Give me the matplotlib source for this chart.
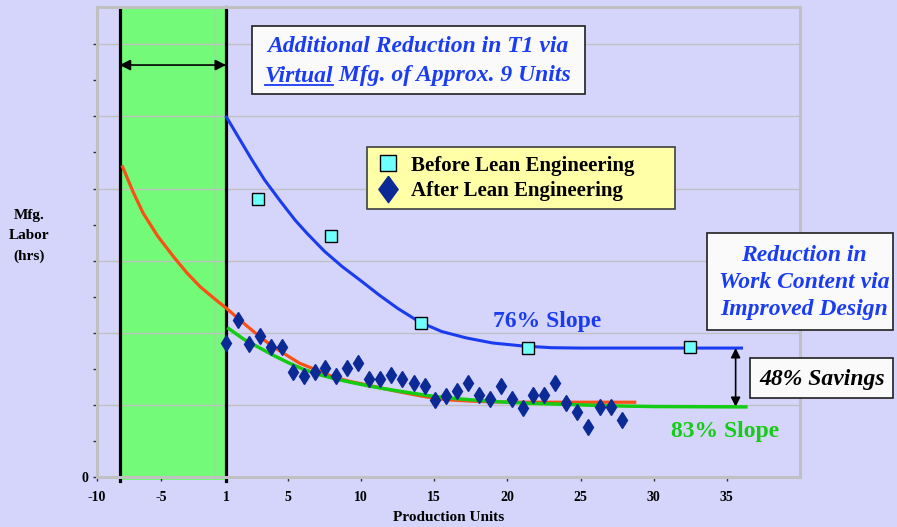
import matplotlib.pyplot as plt
import matplotlib.transforms as mtransforms
from matplotlib.lines import Line2D
from matplotlib.patches import Rectangle

# Observed labor hours per production unit
before_x = [2.95, 7.95, 14.07, 21.4, 32.5]
before_y = [38.6, 33.4, 21.4, 17.9, 18.1]

after_x = [0.77, 1.56, 2.32, 3.09, 3.84, 4.59, 5.37, 6.12, 6.87, 7.53,
           8.26, 9.04, 9.79, 10.56, 11.31, 12.06, 12.82, 13.59, 14.37, 15.03,
           15.78, 16.53, 17.29, 18.06, 18.81, 19.58, 20.33, 21.09, 21.73, 22.5,
           23.27, 24.03, 24.78, 25.53, 26.31, 27.06, 27.81]
after_y = [18.6, 21.8, 18.5, 19.6, 18.0, 18.0, 14.6, 14.0, 14.6, 15.2,
           14.0, 15.2, 15.8, 13.6, 13.6, 14.2, 13.6, 13.0, 12.6, 10.7,
           11.3, 12.0, 13.0, 11.4, 10.8, 12.6, 10.9, 9.6, 11.4, 11.4,
           13.0, 10.3, 9.1, 6.9, 9.7, 9.7, 8.0]

# Learning curves
slope76_x = [0.8, 1.5, 2.5, 3.4, 4.5, 5.5, 6.3, 7.5, 8.7, 10.0, 11.2, 12.5,
             14.0, 15.5, 17.2, 19.0, 21.0, 23.0, 25.0, 36.0]
slope76_y = [49.9, 47.5, 44.1, 41.2, 38.2, 35.6, 33.8, 31.3, 29.2, 27.2, 25.3,
             23.4, 21.5, 20.2, 19.3, 18.6, 18.2, 17.95, 17.9, 17.9]

virtual_x = [-6.3, -5.6, -4.9, -3.9, -2.8, -1.9, -1.0, 0.0, 0.8, 2.0, 3.0,
             3.84, 5.0, 5.8, 6.9, 8.1, 9.2, 10.4, 11.5, 12.7, 14.0, 15.0,
             16.2, 17.5, 19.0, 21.0, 28.7]
virtual_y = [43.0, 39.6, 36.6, 33.4, 30.5, 28.3, 26.4, 24.7, 23.4, 21.3, 19.6,
             18.3, 16.8, 15.8, 14.9, 13.9, 13.3, 12.8, 12.3, 11.8, 11.3, 10.95,
             10.7, 10.55, 10.45, 10.4, 10.4]

slope83_x = [0.95, 2.0, 3.0, 4.0, 5.0, 6.0, 7.0, 8.1, 9.2, 10.4, 11.5, 12.7,
             14.0, 15.0, 16.5, 18.0, 19.5, 21.5, 24.0, 27.0, 30.0, 36.3]
slope83_y = [20.6, 19.1, 18.0, 16.9, 15.9, 15.0, 14.3, 13.7, 13.2, 12.7, 12.3,
             11.9, 11.5, 11.2, 10.9, 10.65, 10.45, 10.25, 10.1, 9.9, 9.8, 9.75]

tick_labels = ['-10', '-5', '1', '5', '10', '15', '20', '25', '30', '35']
tick_pos = [-8.05, -3.68, 0.77, 5, 10, 15, 20, 25, 30, 35]

BG = '#d5d5fc'
GREEN_FILL = '#72fa78'
BLUE = '#1a3cf0'
ORANGE = '#fa5014'
GREEN = '#14cc14'
NAVY = '#0c2a96'
CYAN = '#70ffff'
TEXT_BLUE = '#1a3cf5'
SERIF = 'Liberation Serif'

W, H = 897, 527
fig = plt.figure(figsize=(W / 100, H / 100), dpi=100)
fig.patch.set_facecolor(BG)
ax = fig.add_axes([97 / W, (H - 477.3) / H, 703 / W, 470.3 / H])
ax.set_facecolor(BG)
ax.set_xlim(-8.05, 40.0)
ax.set_ylim(0, 65.14)
ax.set_axisbelow(True)

for s in ax.spines.values():
    s.set_color('#c0c0c0')
    s.set_linewidth(2.2)

# ticks and grid
ax.set_xticks(tick_pos)
ax.set_xticklabels(tick_labels)
ax.set_xticks([0, 10, 20, 30], minor=True)
ax.set_yticks(range(0, 61, 10))
ax.set_yticklabels(['0'] + [''] * 6)
ax.set_yticks(range(5, 56, 10), minor=True)
ax.tick_params(axis='both', which='both', direction='out', length=3,
               width=1, color='#303030')
ax.tick_params(axis='x', which='minor', length=0)
ax.tick_params(axis='x', pad=7)
ax.tick_params(axis='y', pad=3)
for lab in ax.get_xticklabels() + ax.get_yticklabels():
    lab.set_fontfamily(SERIF)
    lab.set_fontweight('bold')
    lab.set_fontsize(10)
ax.grid(axis='y', which='major', color='#c0c0c0', lw=1)
ax.grid(axis='x', which='minor', color='#c0c0c0', lw=1)

ax.set_xlabel('Production Units', family=SERIF, weight='bold', fontsize=11,
              labelpad=5)
ax.set_ylabel('Mfg.\nLabor\n(hrs)', family=SERIF, weight='bold', fontsize=11,
              rotation=0, ha='center', va='center', linespacing=1.7)
ax.yaxis.set_label_coords(-0.097, 0.513)

# virtual manufacturing zone
ax.axvspan(-6.5, 0.77, ymin=-0.006, ymax=0.996, color=GREEN_FILL, lw=0,
           zorder=0.4, clip_on=False)
ax.plot([-6.5, -6.5], [-0.5, 64.9], color='black', lw=2.3, zorder=2,
        clip_on=False)
ax.plot([0.77, 0.77], [-0.5, 65.1], color='black', lw=2.3, zorder=2,
        clip_on=False)
ax.annotate('', xy=(-6.5, 57.1), xytext=(0.77, 57.1),
            arrowprops=dict(arrowstyle='<|-|>', color='black', lw=1.2,
                            mutation_scale=16, shrinkA=0, shrinkB=0))

# curves and points
ax.plot(slope76_x, slope76_y, color=BLUE, lw=2.2, zorder=3)
ax.plot(virtual_x, virtual_y, color=ORANGE, lw=2.3, zorder=3)
ax.plot(slope83_x, slope83_y, color=GREEN, lw=2.5, zorder=3.1)
ax.plot(after_x, after_y, ls='none', marker='d', ms=8, color=NAVY,
        zorder=4)
ax.plot(before_x, before_y, ls='none', marker='s', ms=9.3, mfc=CYAN,
        mec='black', mew=1.0, zorder=5)

ax.annotate('', xy=(35.6, 17.9), xytext=(35.6, 9.75),
            arrowprops=dict(arrowstyle='<|-|>', color='black', lw=1.2,
                            mutation_scale=14, shrinkA=0, shrinkB=0))

ax.text(22.7, 21.6, '76% Slope', ha='center', va='center', family=SERIF,
        weight='bold', fontsize=17, color=BLUE)
ax.text(34.85, 6.3, '83% Slope', ha='center', va='center', family=SERIF,
        weight='bold', fontsize=17, color=GREEN)

# legend
diamond = [(0, 1), (0.73, 0), (0, -1), (-0.73, 0), (0, 1)]
handles = [
    Line2D([], [], ls='none', marker='s', ms=11, mfc=CYAN, mec='black',
           mew=1.0),
    Line2D([], [], ls='none', marker=diamond, ms=19, mfc=NAVY, mec=NAVY),
]
leg = ax.legend(handles, ['Before Lean Engineering', 'After Lean Engineering'],
                loc='upper left', mode='expand',
                bbox_to_anchor=(367.3, H - 213.3, 307.7, 66),
                bbox_transform=mtransforms.IdentityTransform(),
                prop={'family': SERIF, 'weight': 'bold', 'size': 15},
                fancybox=False, framealpha=1, facecolor='#ffffa8',
                edgecolor='#404040', borderpad=0.4, labelspacing=0.25,
                handlelength=1.2, handletextpad=0.5, borderaxespad=0)
leg.get_frame().set_linewidth(1.2)

# annotation boxes in pixel coordinates (origin top-left)
pix = mtransforms.Affine2D().scale(1, -1).translate(0, H)
box_font = dict(family=SERIF, weight='bold', style='italic', fontsize=17)


def box(x0, y0, x1, y1):
    fig.add_artist(Rectangle((x0, y1), x1 - x0, y0 - y1, transform=pix,
                             facecolor='#fafafa', edgecolor='#202020',
                             lw=1.2, zorder=6))


box(251.7, 25.7, 585, 94)
fig.text(418, 46.7, 'Additional Reduction in T1 via', transform=pix,
         ha='center', va='center', color=TEXT_BLUE, zorder=7, **box_font)
r = fig.canvas.get_renderer()
tv = fig.text(0, 76, 'Virtual', transform=pix, ha='left', va='center',
              color=TEXT_BLUE, zorder=7, **box_font)
tr = fig.text(0, 76, ' Mfg. of Approx. 9 Units', transform=pix, ha='left',
              va='center', color=TEXT_BLUE, zorder=7, **box_font)
wv = tv.get_window_extent(r).width
wr = tr.get_window_extent(r).width
x0 = 418 - (wv + wr) / 2
tv.set_x(x0)
tr.set_x(x0 + wv)
fig.add_artist(Line2D([x0, x0 + wv], [84.5, 84.5], transform=pix,
                      color=TEXT_BLUE, lw=1.3, zorder=7))

box(706.7, 233.3, 893, 330)
fig.text(804, 282.5, 'Reduction in\nWork Content via\nImproved Design',
         transform=pix, ha='center', va='center', multialignment='center',
         linespacing=1.35, color=TEXT_BLUE, zorder=7, **box_font)

box(750, 358.3, 893, 398.3)
fig.text(822, 379, '48% Savings', transform=pix, ha='center', va='center',
         color='black', zorder=7, **box_font)

fig.savefig('out.png', dpi=100, facecolor=BG)
